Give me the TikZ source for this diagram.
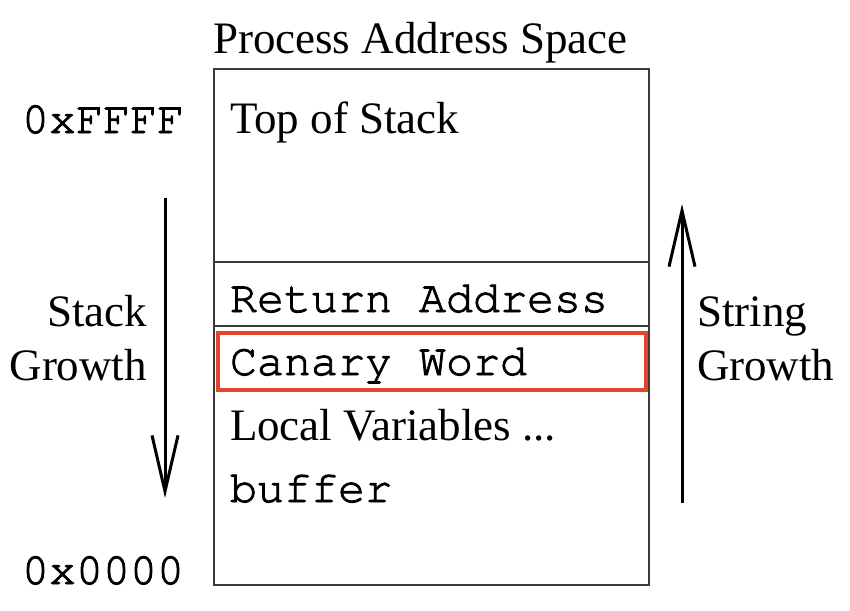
\documentclass[tikz,border=0pt]{standalone}
\usepackage{fontspec}
\setmainfont{Liberation Serif}
\setmonofont[Ligatures=NoCommon,FakeBold=2]{texgyrecursor-regular.otf}
\usetikzlibrary{arrows.meta}
\definecolor{canaryred}{HTML}{E5432B}
\definecolor{boxgray}{HTML}{3A3A3A}
\begin{document}
\begin{tikzpicture}[x=1pt,y=-1pt,
  txt/.style={inner sep=0pt,outer sep=0pt,anchor=base west,font=\fontsize{45}{54}\selectfont},
  txtr/.style={txt,anchor=base east},
  mono/.style={txt,font=\fontsize{45}{54}\selectfont\ttfamily},
  frame/.style={draw=boxgray,line width=1.5pt},
  growth/.style={line width=3pt,-{Straight Barb[length=56pt,width=26pt,line width=3pt]}}]
\useasboundingbox (0,0) rectangle (850,610);
% memory box
\node[frame,inner sep=0pt,minimum width=435pt,minimum height=516pt,anchor=north west] (space) at (213,68) {};
\coordinate (d1l) at (213,262); \coordinate (d1r) at (648,262);
\coordinate (d2l) at (213,326); \coordinate (d2r) at (648,326);
\draw[frame] (d1l) -- (d1r);
\draw[frame] (d2l) -- (d2r);
\node[draw=canaryred,line width=4pt,inner sep=0pt,minimum width=428pt,minimum height=57pt,anchor=north west] (canarybox) at (216,331) {};
% texts
\node[txt] (title) at (213,53) {Process Address Space};
\node[txt] (top) at (230,133) {Top of Stack};
\node[mono] (ret) at (230,312) {Return Address};
\node[mono] (can) at (230,375) {Canary Word};
\node[txt] (loc) at (230,440) {Local Variables ...};
\node[mono] (buf) at (230,502) {buffer};
\node[mono] (hi) at (22,133) {0xFFFF};
\node[mono] (lo) at (22,584) {0x0000};
\node[txtr] (sg1) at (147,326) {Stack};
\node[txtr] (sg2) at (147,380) {Growth};
\node[txt] (str1) at (697,326) {String};
\node[txt] (str2) at (697,380) {Growth};
% arrows
\coordinate (sa) at (165,198); \coordinate (sb) at (165,498);
\coordinate (ua) at (682,503); \coordinate (ub) at (682,204);
\draw[growth] (sa) -- (sb);
\draw[growth] (ua) -- (ub);
\end{tikzpicture}
\end{document}
